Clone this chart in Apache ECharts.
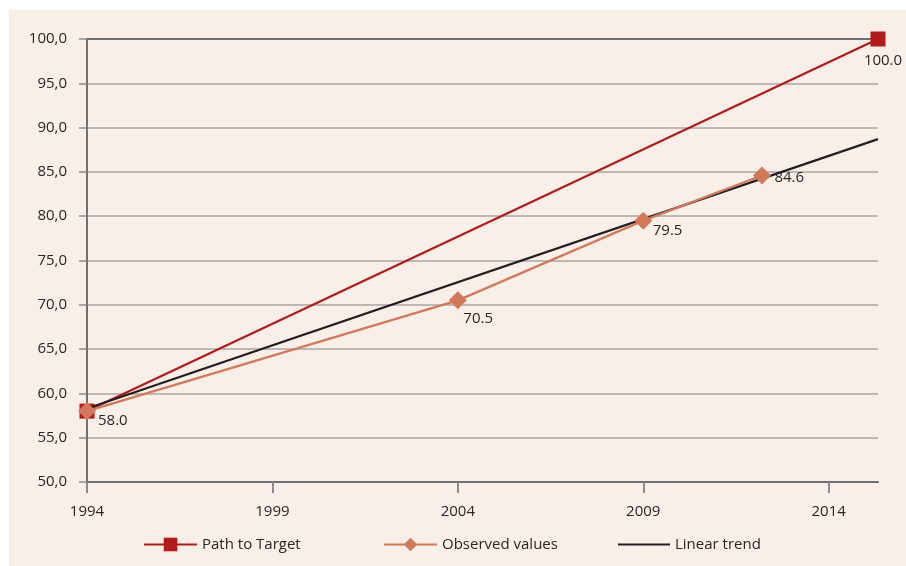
<!DOCTYPE html>
<html>
<head>
<meta charset="utf-8">
<script src="https://cdn.jsdelivr.net/npm/echarts@6/dist/echarts.min.js"></script>
<style>
  html, body { margin: 0; padding: 0; background: #ffffff; }
  #wrap { position: relative; width: 906px; height: 566px; background: #ffffff; }
  #panel { position: absolute; left: 9px; top: 10px; right: 0; bottom: 0; background: #f8efe9; }
  #chart { position: absolute; left: 0; top: 0; width: 906px; height: 566px; }
</style>
</head>
<body>
<div id="wrap">
  <div id="panel"></div>
  <div id="chart"></div>
</div>
<script>
// Years on the x axis are plotted as offsets from the first year
const baseYear = 1994;
const endYear = 2015.33;
const xTickYears = [1994, 1999, 2004, 2009, 2014];

// Path to Target
const targetYears = [1994, 2015.33];
const targetValues = [58.0, 100.0];

// Observed values
const observedYears = [1994, 2004, 2009, 2012.2];
const observedValues = [58.0, 70.5, 79.5, 84.6];

// Linear trend
const trendYears = [1994, 2015.33];
const trendValues = [58.3, 88.7];

const FONT = '"Open Sans", sans-serif';
const TEXT = '#2b2526';
const RED = '#b41a19';
const ORANGE = '#d4785a';
const BLACK = '#231f20';

const toPoints = (years, values) => years.map((y, i) => [y - baseYear, values[i]]);

// Per-point label placement for the observed series
const observedLabelOffsets = [[-3, 10], [-8.5, 18], [-4.5, 10], [-1.5, 2]];

const chart = echarts.init(document.getElementById('chart'), null, { renderer: 'canvas' });

const legendText = { fontFamily: FONT, fontSize: 15, color: TEXT };

chart.setOption({
  backgroundColor: 'transparent',
  animation: false,
  grid: { left: 87, right: 28, top: 39, bottom: 84, containLabel: false },
  legend: [
    {
      left: 143, top: 537, itemWidth: 53, itemHeight: 17, padding: 0,
      selectedMode: false, textStyle: legendText,
      data: ['Path to Target']
    },
    {
      left: 383, top: 537, itemWidth: 53, itemHeight: 17, padding: 0,
      selectedMode: false, textStyle: legendText,
      data: ['Observed values']
    },
    {
      left: 617, top: 537, itemWidth: 52, itemHeight: 17, padding: 0,
      selectedMode: false, textStyle: legendText,
      data: [{ name: 'Linear trend', itemStyle: { opacity: 0 } }]
    }
  ],
  xAxis: [
    {
      type: 'value',
      min: 0,
      max: endYear - baseYear,
      interval: 5,
      axisLine: { show: true, lineStyle: { color: '#6f6f6f', width: 2 } },
      axisTick: {
        show: true, length: 11,
        customValues: xTickYears.map(y => y - baseYear),
        lineStyle: { color: '#8a8a8a', width: 2 }
      },
      axisLabel: {
        margin: 22,
        customValues: xTickYears.map(y => y - baseYear),
        formatter: v => String(Math.round(v + baseYear)),
        fontFamily: FONT, fontSize: 15, color: TEXT
      },
      splitLine: { show: false }
    },
    {
      // top border line of the plot
      type: 'value',
      position: 'top',
      min: 0,
      max: endYear - baseYear,
      axisLine: { show: true, lineStyle: { color: '#6f6f6f', width: 2 } },
      axisTick: { show: false },
      axisLabel: { show: false },
      splitLine: { show: false }
    }
  ],
  yAxis: {
    type: 'value',
    min: 50,
    max: 100,
    interval: 5,
    axisLine: { show: true, lineStyle: { color: '#6f6f6f', width: 2 } },
    axisTick: { show: true, length: 8, lineStyle: { color: '#8a8a8a', width: 1.5 } },
    axisLabel: {
      margin: 20,
      formatter: v => v.toFixed(1).replace('.', ','),
      fontFamily: FONT, fontSize: 15, color: TEXT
    },
    splitLine: { show: true, lineStyle: { color: '#a8a6a5', width: 1.5 } }
  },
  series: [
    {
      name: 'Path to Target',
      type: 'line',
      data: toPoints(targetYears, targetValues).map((p, i) => ({
        value: p,
        label: i === targetYears.length - 1
          ? { show: true, position: 'bottom', offset: [5, 2], formatter: () => targetValues[i].toFixed(1) }
          : { show: false }
      })),
      symbol: 'rect',
      symbolSize: 15,
      lineStyle: { color: RED, width: 2.2 },
      itemStyle: { color: RED },
      label: { fontFamily: FONT, fontSize: 15, color: TEXT },
      z: 2
    },
    {
      name: 'Linear trend',
      type: 'line',
      data: toPoints(trendYears, trendValues),
      symbol: 'none',
      lineStyle: { color: BLACK, width: 2.2 },
      itemStyle: { color: BLACK },
      z: 3
    },
    {
      name: 'Observed values',
      type: 'line',
      data: toPoints(observedYears, observedValues).map((p, i) => ({
        value: p,
        label: {
          show: true,
          position: 'right',
          offset: observedLabelOffsets[i],
          formatter: () => observedValues[i].toFixed(1)
        }
      })),
      symbol: 'diamond',
      symbolSize: 18,
      lineStyle: { color: ORANGE, width: 2.2 },
      itemStyle: { color: ORANGE },
      label: { fontFamily: FONT, fontSize: 15, color: TEXT },
      z: 4
    }
  ]
});
</script>
</body>
</html>
